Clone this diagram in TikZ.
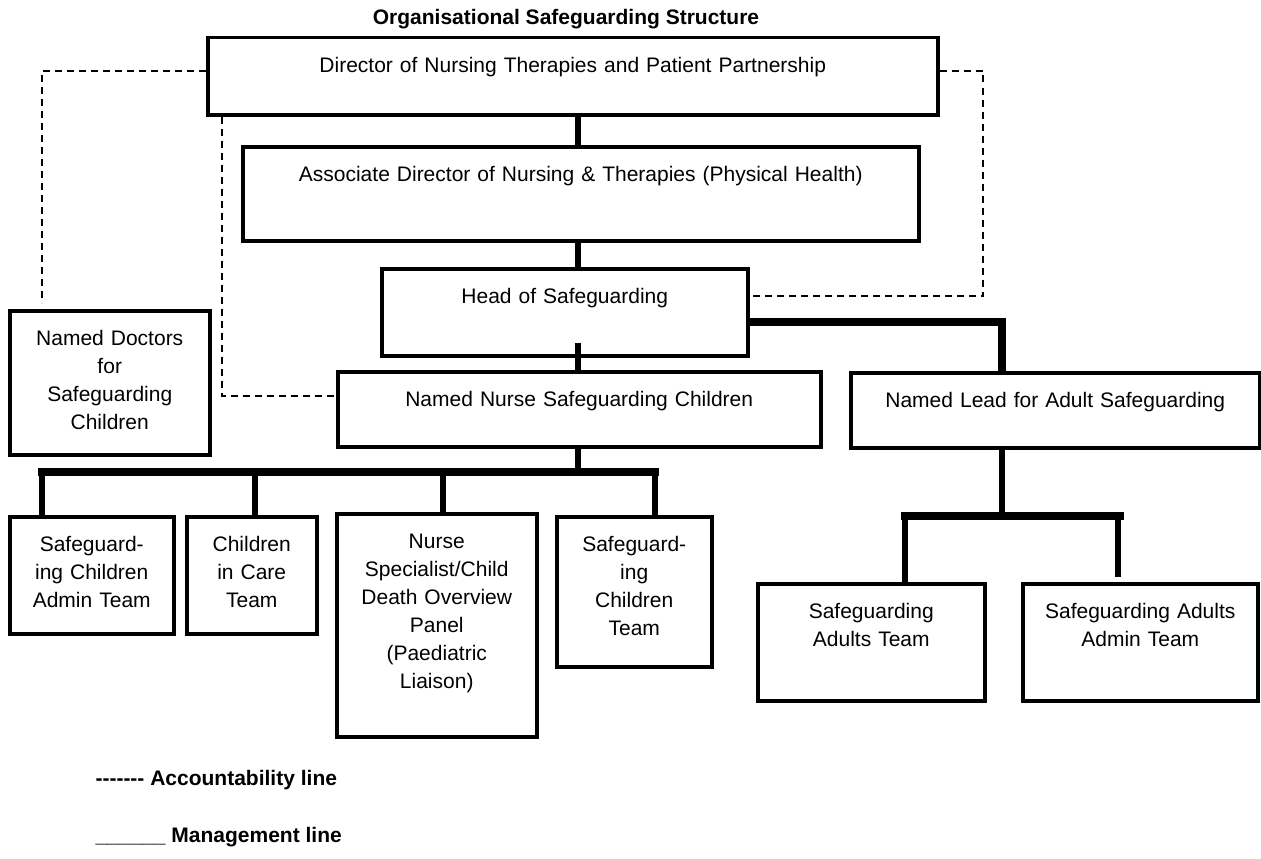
\documentclass[tikz,border=0pt]{standalone}
\usepackage{fontspec}
\setmainfont{Liberation Sans}
\usetikzlibrary{calc}

\tikzset{
  orgbox/.style 2 args={draw, line width=3.5pt, anchor=north west, inner sep=0pt,
    text width=#1, align=center, text height=35pt, text depth=#2},
  acc/.style={line width=1.5pt, dash pattern=on 7pt off 5pt},
  mgmt/.style={line width=6pt},
  bar/.style={line width=8pt, line cap=rect},
  every node/.style={font=\fontsize{21}{28}\selectfont}
}

\begin{document}
\begin{tikzpicture}[x=1pt,y=-1pt]
    \useasboundingbox (0,0) rectangle (1261,859);

    \node[anchor=base, font=\bfseries\fontsize{21}{28}\selectfont] (title) at (566,25) {Organisational Safeguarding Structure};

    % boxes: width, depth below first baseline
    \node[orgbox={730pt}{42pt}] (dir) at (206,36) {Director of Nursing Therapies and Patient Partnership};
    \node[orgbox={676pt}{59pt}] (assoc) at (241,145) {Associate Director of Nursing \& Therapies (Physical Health)};
    \node[orgbox={366pt}{52pt}] (head) at (380,267) {Head of Safeguarding};
    \node[orgbox={200pt}{109pt}] (doc) at (8,309) {Named Doctors\\for\\Safeguarding\\Children};
    \node[orgbox={483pt}{40pt}] (nurse) at (336,370) {Named Nurse Safeguarding Children};
    \node[orgbox={409pt}{40pt}] (lead) at (849,371) {Named Lead for Adult Safeguarding};

    \node[orgbox={164pt}{82pt}] (sca) at (8,515) {Safeguard-\\ing Children\\Admin Team};
    \node[orgbox={130pt}{82pt}] (cic) at (185,515) {Children\\in Care\\Team};
    \node[orgbox={200pt}{188pt}] (nsp) at (335,512) {Nurse\\Specialist/Child\\Death Overview\\Panel\\(Paediatric\\Liaison)};
    \node[orgbox={155pt}{115pt}] (sct) at (555,515) {Safeguard-\\ing\\Children\\Team};

    \node[orgbox={227pt}{82pt}] (sat) at (756,582) {Safeguarding\\Adults Team};
    \node[orgbox={235pt}{82pt}] (saa) at (1021,582) {Safeguarding Adults\\Admin Team};

    % management lines
    \coordinate (sp) at (577.5,0);
    \draw[mgmt] (dir.south -| sp) -- (assoc.north -| sp);
    \draw[mgmt] ([yshift=4pt]assoc.south -| sp) -- (head.north -| sp);
    \draw[mgmt] ([yshift=15pt]head.south -| sp) -- (nurse.north -| sp);

    \coordinate (lj) at (1002,322);
    \draw[line width=7.5pt] (head.east |- lj) -| (lead.north -| lj);

    \coordinate (cb) at (577.5,472);
    \draw[mgmt] (nurse.south -| cb) -- (cb);
    \draw[bar] (42,472) -- (655,472);
    \foreach \b/\x in {sca/42,cic/255,nsp/443,sct/655} {
        \coordinate (d\b) at (\x,472);
        \draw[mgmt] (d\b) -- (\b.north -| d\b);}

    \coordinate (ab) at (1002,516);
    \draw[mgmt] (lead.south -| ab) -- (ab);
    \draw[bar] (905,516) -- (1120,516);
    \coordinate (dsat) at (905,516);
    \coordinate (dsaa) at (1118,516);
    \draw[mgmt] (dsat) -- (sat.north -| dsat);
    \draw[mgmt] (dsaa) -- ([yshift=5pt]saa.north -| dsaa);

    % accountability lines
    \coordinate (dl) at (42,71);
    \coordinate (dr) at (983,71);
    \coordinate (drb) at (983,296);
    \coordinate (di) at (222,396);
    \draw[acc] (dir.west |- dl) -- (dl) -- ([yshift=6pt]doc.north -| dl);
    \draw[acc] (dir.east |- dr) -- (dr) -- (drb) -- (head.east |- drb);
    \draw[acc] (dir.south -| di) -- (di) -- (nurse.west |- di);

    % key
    \node[anchor=base west, font=\bfseries\fontsize{21}{28}\selectfont] (acckey) at (92,785) {{-}{-}{-}{-}{-}{-}{-} Accountability line};
    \node[anchor=base west, font=\bfseries\fontsize{21}{28}\selectfont] (mgmtkey) at (92,842) {\_\_\_\_\_\_ Management line};
\end{tikzpicture}
\end{document}
